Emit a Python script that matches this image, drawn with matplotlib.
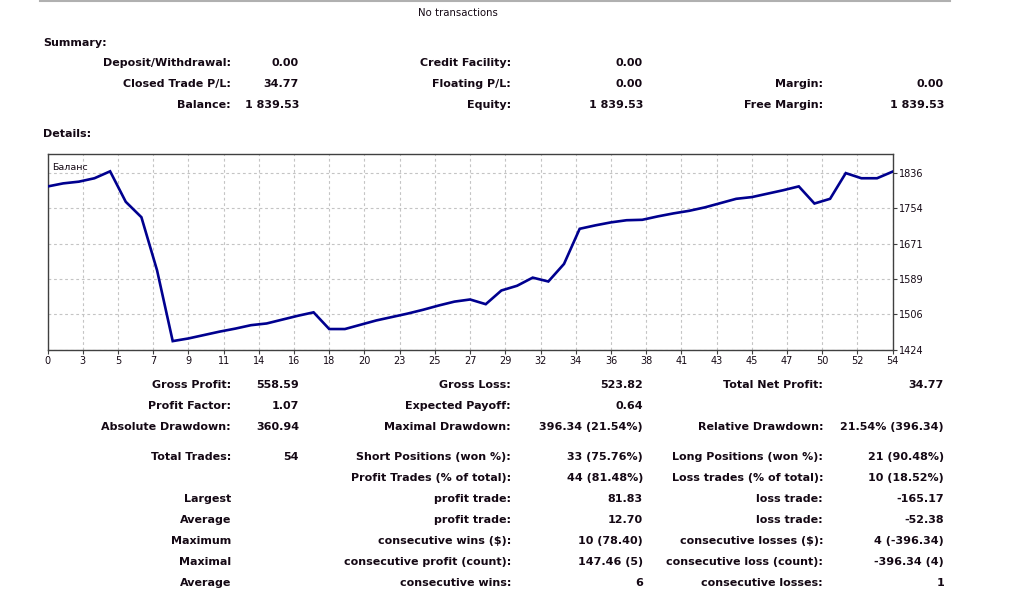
import matplotlib
matplotlib.use("Agg")
import matplotlib.pyplot as plt
import numpy as np

# ---------------- data ----------------
balance = [1804.76, 1812.0, 1816.0, 1824.0, 1840.16, 1769.0, 1733.0, 1609.0, 1443.82, 1450.0,
           1458.0, 1466.0, 1473.0, 1481.0, 1485.0, 1494.0, 1503.0, 1511.0, 1472.0, 1472.0,
           1482.0, 1492.0, 1500.0, 1508.0, 1517.0, 1527.0, 1536.0, 1541.0, 1530.0, 1562.0,
           1573.0, 1592.0, 1583.0, 1624.0, 1706.0, 1714.0, 1721.0, 1726.0, 1727.0, 1735.0,
           1742.0, 1748.0, 1756.0, 1766.0, 1776.0, 1780.0, 1788.0, 1796.0, 1805.0, 1765.0,
           1776.0, 1836.0, 1824.0, 1824.0, 1839.53]
trade_no = list(range(len(balance)))
x_tick_labels = ["0", "3", "5", "7", "9", "11", "14", "16", "18", "20", "23", "25", "27",
                 "29", "32", "34", "36", "38", "41", "43", "45", "47", "50", "52", "54"]
y_tick_values = [1424, 1506.4, 1588.8, 1671.2, 1753.6, 1836]
y_tick_labels = ["1424", "1506", "1589", "1671", "1754", "1836"]

summary_rows = [
    ["Deposit/Withdrawal:", "0.00", "Credit Facility:", "0.00", "", ""],
    ["Closed Trade P/L:", "34.77", "Floating P/L:", "0.00", "Margin:", "0.00"],
    ["Balance:", "1 839.53", "Equity:", "1 839.53", "Free Margin:", "1 839.53"],
]
details_rows = [
    ["Gross Profit:", "558.59", "Gross Loss:", "523.82", "Total Net Profit:", "34.77"],
    ["Profit Factor:", "1.07", "Expected Payoff:", "0.64", "", ""],
    ["Absolute Drawdown:", "360.94", "Maximal Drawdown:", "396.34 (21.54%)", "Relative Drawdown:", "21.54% (396.34)"],
    ["Total Trades:", "54", "Short Positions (won %):", "33 (75.76%)", "Long Positions (won %):", "21 (90.48%)"],
    ["", "", "Profit Trades (% of total):", "44 (81.48%)", "Loss trades (% of total):", "10 (18.52%)"],
    ["Largest", "", "profit trade:", "81.83", "loss trade:", "-165.17"],
    ["Average", "", "profit trade:", "12.70", "loss trade:", "-52.38"],
    ["Maximum", "", "consecutive wins ($):", "10 (78.40)", "consecutive losses ($):", "4 (-396.34)"],
    ["Maximal", "", "consecutive profit (count):", "147.46 (5)", "consecutive loss (count):", "-396.34 (4)"],
    ["Average", "", "consecutive wins:", "6", "consecutive losses:", "1"],
]

# ---------------- layout ----------------
W, H = 1019, 595
fig = plt.figure(figsize=(W / 100, H / 100), dpi=100)
fig.patch.set_facecolor("white")

def fx(px):
    return px / W

def fy(py):
    return 1 - py / H

TXT = "#140814"
FS = 8.0

# top border line
fig.add_artist(plt.Line2D([fx(40), fx(950)], [fy(0.8), fy(0.8)], color="#b0b0b0", lw=1.5))
fig.text(fx(458), fy(13), "No transactions", ha="center", va="center", fontsize=7.3, color=TXT)

fig.text(fx(43), fy(43), "Summary:", ha="left", va="center", fontsize=FS, weight="bold", color=TXT)
fig.text(fx(43), fy(134), "Details:", ha="left", va="center", fontsize=FS, weight="bold", color=TXT)

col_right = [231, 299, 511, 643, 823, 944]

summary_y = [63, 84, 105]
for row, yy in zip(summary_rows, summary_y):
    for txt, xr in zip(row, col_right):
        if txt:
            fig.text(fx(xr), fy(yy), txt, ha="right", va="center", fontsize=FS, weight="bold", color=TXT)

details_y = [385, 406, 427, 457, 478, 499, 520, 541, 562, 583]
for row, yy in zip(details_rows, details_y):
    for txt, xr in zip(row, col_right):
        if txt:
            fig.text(fx(xr), fy(yy), txt, ha="right", va="center", fontsize=FS, weight="bold", color=TXT)

# ---------------- chart ----------------
left, right, top, bottom = 47.5, 892.7, 154, 349.6
ax = fig.add_axes([fx(left), fy(bottom), fx(right - left), (bottom - top) / H])
ax.plot(trade_no, balance, color="#00008f", lw=1.9, solid_joinstyle="miter", zorder=3)

n = len(balance) - 1
ax.set_xlim(0, n)
ax.set_ylim(1424, 1880.6)
xt = [i * n / (len(x_tick_labels) - 1) for i in range(len(x_tick_labels))]
ax.set_xticks(xt)
ax.set_xticklabels(x_tick_labels, fontsize=7.0, color=TXT)
ax.set_yticks(y_tick_values)
ax.set_yticklabels(y_tick_labels, fontsize=7.0, color=TXT)
ax.yaxis.tick_right()
ax.tick_params(axis="both", direction="out", length=3, width=0.8, color="#404040", pad=1.5)
ax.grid(True, color="#c4c4c4", linestyle=(0, (2.5, 2.5)), lw=0.8, zorder=0)
for s in ax.spines.values():
    s.set_color("#404040")
    s.set_linewidth(1.0)
ax.text(0.006, 0.955, "Баланс", transform=ax.transAxes, ha="left", va="top", fontsize=6.8, color=TXT)

fig.savefig("out.png", dpi=100, facecolor="white")
